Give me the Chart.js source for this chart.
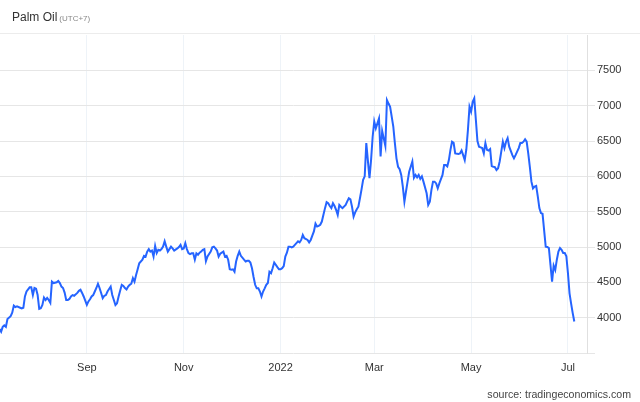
<!DOCTYPE html>
<html>
<head>
<meta charset="utf-8">
<script src="https://cdn.jsdelivr.net/npm/chart.js@4"></script>
<style>
  html, body { margin: 0; padding: 0; background: #fff; }
  #wrap { position: relative; width: 640px; height: 402px; font-family: "Liberation Sans", Arial, sans-serif; }
  #title { position: absolute; left: 12px; top: 10px; font-size: 12px; color: #333; }
  #title small { font-size: 8px; color: #888; margin-left: 2px; }
  #source { position: absolute; right: 9px; top: 388px; font-size: 10.6px; color: #444; }
</style>
</head>
<body>
<div id="wrap">
  <canvas id="chart" width="640" height="402"></canvas>
  <div id="title">Palm Oil<small>(UTC+7)</small></div>
  <div id="source">source: tradingeconomics.com</div>
</div>
<script>
const dates = [
  "2021-07-08","2021-07-09","2021-07-10","2021-07-11","2021-07-12","2021-07-13","2021-07-15","2021-07-16","2021-07-17","2021-07-18",
  "2021-07-19","2021-07-21","2021-07-22","2021-07-23","2021-07-24","2021-07-25","2021-07-27","2021-07-28","2021-07-29","2021-07-30",
  "2021-07-31","2021-08-01","2021-08-02","2021-08-03","2021-08-04","2021-08-05","2021-08-06","2021-08-07","2021-08-08","2021-08-09",
  "2021-08-10","2021-08-11","2021-08-13","2021-08-14","2021-08-15","2021-08-16","2021-08-17","2021-08-18","2021-08-19","2021-08-20",
  "2021-08-21","2021-08-22","2021-08-23","2021-08-24","2021-08-26","2021-08-27","2021-08-28","2021-08-29","2021-08-30","2021-08-31",
  "2021-09-01","2021-09-02","2021-09-03","2021-09-04","2021-09-05","2021-09-06","2021-09-07","2021-09-08","2021-09-09","2021-09-10",
  "2021-09-11","2021-09-12","2021-09-13","2021-09-14","2021-09-16","2021-09-17","2021-09-18","2021-09-19","2021-09-20","2021-09-21",
  "2021-09-22","2021-09-23","2021-09-24","2021-09-25","2021-09-26","2021-09-27","2021-09-28","2021-09-29","2021-09-30","2021-10-01",
  "2021-10-02","2021-10-03","2021-10-04","2021-10-06","2021-10-07","2021-10-08","2021-10-09","2021-10-10","2021-10-11","2021-10-12",
  "2021-10-13","2021-10-14","2021-10-15","2021-10-16","2021-10-17","2021-10-18","2021-10-19","2021-10-20","2021-10-21","2021-10-22",
  "2021-10-23","2021-10-24","2021-10-25","2021-10-26","2021-10-28","2021-10-29","2021-10-30","2021-10-31","2021-11-01","2021-11-02",
  "2021-11-03","2021-11-04","2021-11-05","2021-11-06","2021-11-07","2021-11-08","2021-11-09","2021-11-10","2021-11-11","2021-11-12",
  "2021-11-13","2021-11-14","2021-11-15","2021-11-16","2021-11-18","2021-11-19","2021-11-20","2021-11-21","2021-11-22","2021-11-23",
  "2021-11-24","2021-11-25","2021-11-26","2021-11-27","2021-11-28","2021-11-29","2021-11-30","2021-12-01","2021-12-02","2021-12-03",
  "2021-12-04","2021-12-05","2021-12-06","2021-12-07","2021-12-09","2021-12-10","2021-12-11","2021-12-12","2021-12-13","2021-12-14",
  "2021-12-15","2021-12-16","2021-12-17","2021-12-18","2021-12-19","2021-12-20","2021-12-21","2021-12-22","2021-12-23","2021-12-24",
  "2021-12-25","2021-12-26","2021-12-27","2021-12-28","2021-12-30","2021-12-31","2022-01-01","2022-01-02","2022-01-03","2022-01-04",
  "2022-01-05","2022-01-06","2022-01-07","2022-01-08","2022-01-09","2022-01-10","2022-01-11","2022-01-12","2022-01-13","2022-01-14",
  "2022-01-15","2022-01-16","2022-01-18","2022-01-19","2022-01-20","2022-01-21","2022-01-22","2022-01-23","2022-01-24","2022-01-25",
  "2022-01-26","2022-01-27","2022-01-28","2022-01-29","2022-01-30","2022-01-31","2022-02-01","2022-02-02","2022-02-03","2022-02-04",
  "2022-02-05","2022-02-06","2022-02-07","2022-02-08","2022-02-09","2022-02-11","2022-02-12","2022-02-13","2022-02-14","2022-02-15",
  "2022-02-16","2022-02-17","2022-02-18","2022-02-19","2022-02-20","2022-02-21","2022-02-22","2022-02-23","2022-02-24","2022-02-26",
  "2022-02-27","2022-02-28","2022-03-01","2022-03-02","2022-03-03","2022-03-04","2022-03-05","2022-03-06","2022-03-08","2022-03-09",
  "2022-03-10","2022-03-11","2022-03-12","2022-03-13","2022-03-14","2022-03-15","2022-03-16","2022-03-17","2022-03-18","2022-03-19",
  "2022-03-20","2022-03-21","2022-03-22","2022-03-23","2022-03-25","2022-03-26","2022-03-27","2022-03-28","2022-03-29","2022-03-30",
  "2022-03-31","2022-04-01","2022-04-03","2022-04-04","2022-04-05","2022-04-06","2022-04-07","2022-04-08","2022-04-09","2022-04-10",
  "2022-04-11","2022-04-12","2022-04-13","2022-04-14","2022-04-15","2022-04-16","2022-04-17","2022-04-18","2022-04-19","2022-04-20",
  "2022-04-21","2022-04-23","2022-04-24","2022-04-25","2022-04-26","2022-04-27","2022-04-28","2022-04-29","2022-04-30","2022-05-01",
  "2022-05-02","2022-05-03","2022-05-04","2022-05-05","2022-05-06","2022-05-07","2022-05-08","2022-05-09","2022-05-10","2022-05-11",
  "2022-05-12","2022-05-13","2022-05-14","2022-05-15","2022-05-16","2022-05-17","2022-05-18","2022-05-19","2022-05-20","2022-05-21",
  "2022-05-22","2022-05-23","2022-05-24","2022-05-25","2022-05-27","2022-05-28","2022-05-29","2022-05-30","2022-05-31","2022-06-01",
  "2022-06-02","2022-06-03","2022-06-04","2022-06-05","2022-06-06","2022-06-07","2022-06-08","2022-06-09","2022-06-10","2022-06-11",
  "2022-06-12","2022-06-13","2022-06-14","2022-06-15","2022-06-17","2022-06-18","2022-06-19","2022-06-20","2022-06-21","2022-06-22",
  "2022-06-23","2022-06-24","2022-06-25","2022-06-26","2022-06-27","2022-06-28","2022-06-29","2022-06-30","2022-07-01","2022-07-02",
  "2022-07-03","2022-07-04","2022-07-05"
];

const prices = [
  3840,3800,3870,3890,3870,3980,4020,4070,4170,4150,
  4160,4140,4130,4140,4300,4370,4430,4430,4320,4420,
  4410,4320,4125,4135,4180,4285,4250,4280,4250,4210,
  4510,4490,4500,4520,4490,4440,4420,4355,4250,4250,
  4265,4300,4320,4310,4350,4380,4395,4350,4300,4240,
  4180,4230,4260,4300,4320,4370,4420,4480,4420,4350,
  4275,4310,4320,4370,4440,4320,4250,4180,4205,4300,
  4385,4465,4450,4420,4400,4440,4465,4480,4560,4510,
  4605,4685,4770,4820,4875,4865,4935,4970,4935,4950,
  4865,5015,4915,4960,4950,4970,5005,5080,5005,4935,
  4970,5005,4980,4950,4980,5000,5030,4970,4980,5055,
  4970,4915,4900,4910,4910,4820,4910,4890,4920,4935,
  4960,4970,4800,4865,4935,4995,5005,4980,4950,4865,
  4905,4920,4935,4865,4875,4820,4685,4680,4685,4650,
  4795,4875,4935,4875,4820,4795,4805,4805,4780,4700,
  4575,4465,4415,4415,4370,4300,4370,4415,4465,4490,
  4650,4630,4700,4780,4715,4685,4685,4700,4730,4865,
  4920,5005,5005,4995,5005,5030,5055,5080,5065,5100,
  5170,5125,5100,5065,5100,5160,5220,5330,5290,5300,
  5315,5360,5455,5550,5635,5620,5580,5550,5620,5580,
  5525,5455,5595,5570,5550,5595,5645,5690,5675,5570,
  5430,5490,5535,5570,5690,5815,5950,6000,6470,5975,
  6230,6560,6775,6680,6750,6820,6280,6640,6430,7080,
  7030,6985,6845,6705,6470,6255,6135,6100,6020,5855,
  5640,5785,5925,6065,6210,5980,6020,5985,6020,5965,
  6000,5925,5760,5595,5640,5805,5925,5925,5900,5830,
  5900,5960,6020,6160,6160,6140,6230,6375,6490,6475,
  6325,6315,6325,6365,6300,6230,6380,6655,6985,6915,
  7055,7105,6800,6500,6420,6410,6400,6325,6470,6375,
  6365,6385,6145,6135,6130,6090,6115,6210,6350,6490,
  6400,6490,6540,6420,6300,6255,6300,6350,6400,6470,
  6470,6490,6525,6490,6325,6135,5925,5830,5855,5865,
  5715,5550,5480,5470,5005,5000,4985,4745,4510,4735,
  4675,4820,4935,4985,4960,4915,4915,4870,4630,4345,
  4200,4065,3945
];

const tickDates = ["2021-09-01", "2021-11-01", "2022-01-01", "2022-03-01", "2022-05-01", "2022-07-01"];
const tickLabels = ["Sep", "Nov", "2022", "Mar", "May", "Jul"];

// days counted from 1 Jul 2021, so a linear axis can act as a time axis
const origin = Date.parse("2021-07-01");
const toDay = (d) => (Date.parse(d) - origin) / 86400000;

const points = dates.map((d, i) => ({ x: toDay(d), y: prices[i] }));
const tickDays = tickDates.map(toDay);

const topRule = {
  id: "topRule",
  afterDraw(chart) {
    const ctx = chart.ctx;
    ctx.save();
    ctx.strokeStyle = "#ececec";
    ctx.lineWidth = 1;
    ctx.beginPath();
    ctx.moveTo(0, 33.5);
    ctx.lineTo(640, 33.5);
    ctx.stroke();
    ctx.restore();
  },
};

Chart.defaults.font.family = "'Liberation Sans', Arial, sans-serif";
Chart.defaults.font.size = 11;
Chart.defaults.color = "#333";

new Chart(document.getElementById("chart"), {
  type: "line",
  data: {
    datasets: [
      {
        data: points,
        borderColor: "#2564ff",
        borderWidth: 2,
        pointRadius: 0,
        tension: 0,
        fill: false,
      },
    ],
  },
  options: {
    responsive: false,
    animation: false,
    layout: { padding: { top: 35, left: 0, right: 0, bottom: 0 } },
    plugins: { legend: { display: false }, tooltip: { enabled: false } },
    scales: {
      x: {
        type: "linear",
        min: 7.3,
        max: 377,
        afterBuildTicks: (scale) => {
          scale.ticks = tickDays.map((v) => ({ value: v }));
        },
        afterFit: (scale) => {
          scale.height = 49;
        },
        ticks: {
          autoSkip: false,
          maxRotation: 0,
          padding: 8,
          callback: (v, i) => tickLabels[i],
        },
        grid: { color: "#eef3f8", drawTicks: false },
        border: { display: false },
      },
      y: {
        position: "right",
        min: 3500,
        max: 8000,
        afterFit: (scale) => {
          scale.width = 53;
        },
        ticks: {
          stepSize: 500,
          padding: 2,
          callback: (v) => (v === 3500 || v === 8000 ? "" : String(v)),
        },
        grid: {
          color: (c) => (c.tick && c.tick.value === 8000 ? "rgba(0,0,0,0)" : "#e6e6e6"),
          tickLength: 8,
        },
        border: { display: true, color: "#e0e0e0" },
      },
    },
  },
  plugins: [topRule],
});
</script>
</body>
</html>
